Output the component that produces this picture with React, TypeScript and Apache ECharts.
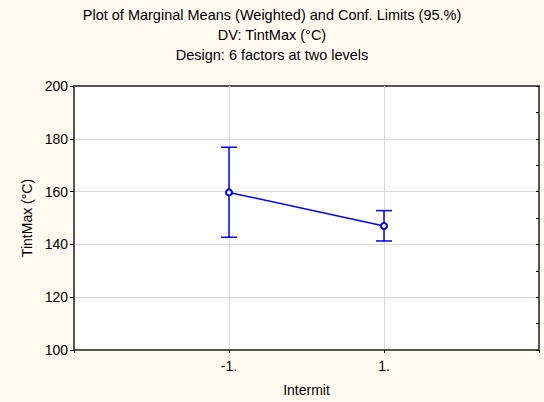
import React, { useEffect, useRef } from "react";
import * as echarts from "echarts";

const titleLines = [
  "Plot of Marginal Means (Weighted) and Conf. Limits (95.%)",
  "DV: TintMax (°C)",
  "Design: 6 factors at two levels",
];
const levels = [-1, 1];
const levelLabels = ["-1.", "1."];
const means = [159.7, 147.0];
const lowerLimits = [142.7, 141.3];
const upperLimits = [176.8, 152.8];
const xAxisName = "Intermit";
const yAxisName = "TintMax (°C)";

const BLUE = "#0000ff";
const FONT = "'Liberation Sans', Arial, sans-serif";
const FS = 14;

export default function App() {
  const ref = useRef<HTMLDivElement>(null);
  useEffect(() => {
    document.body.style.margin = "0";
    const chart = echarts.init(ref.current!, null, { renderer: "svg" });
    const lineData = levels.map((x, i) => [x, means[i]]);
    const errData = levels.map((x, i) => [x, lowerLimits[i], upperLimits[i]]);
    chart.setOption({
      animation: false,
      backgroundColor: "#fffbf0",
      textStyle: { fontFamily: FONT },
      title: {
        text: titleLines.join("\n"),
        left: "center",
        top: 5,
        padding: 0,
        textStyle: {
          fontFamily: FONT,
          fontSize: 14.5,
          fontWeight: "normal",
          color: "#000",
          lineHeight: 20,
        },
      },
      grid: {
        left: 74,
        right: 5,
        top: 86,
        bottom: 52,
        show: true,
        backgroundColor: "#ffffff",
        borderColor: "#555",
        borderWidth: 2,
      },
      xAxis: {
        type: "value",
        min: -3,
        max: 3,
        interval: 2,
        name: xAxisName,
        nameLocation: "middle",
        nameGap: 33,
        nameTextStyle: { fontFamily: FONT, fontSize: FS, color: "#000" },
        axisLine: { show: true, onZero: false, lineStyle: { color: "#555", width: 2 } },
        axisTick: { show: true, length: 3, lineStyle: { color: "#000" } },
        axisLabel: {
          fontFamily: FONT,
          fontSize: FS,
          color: "#000",
          margin: 9,
          formatter: (v: number) => {
            const i = levels.indexOf(v);
            return i >= 0 ? levelLabels[i] : "";
          },
        },
        splitLine: {
          show: true,
          showMinLine: false,
          showMaxLine: false,
          lineStyle: { color: "#d8d8d8" },
        },
      },
      yAxis: [
        {
          type: "value",
          min: 100,
          max: 200,
          interval: 20,
          name: yAxisName,
          nameLocation: "middle",
          nameGap: 39,
          nameTextStyle: { fontFamily: FONT, fontSize: FS, color: "#000" },
          axisLine: { show: true, onZero: false, lineStyle: { color: "#555", width: 2 } },
          axisTick: { show: true, length: 4, lineStyle: { color: "#000" } },
          axisLabel: { fontFamily: FONT, fontSize: FS, color: "#000", margin: 6 },
          splitLine: {
            show: true,
            showMinLine: false,
            showMaxLine: false,
            lineStyle: { color: "#d8d8d8" },
          },
        },
        {
          type: "value",
          position: "right",
          min: 100,
          max: 200,
          interval: 10,
          axisLine: { show: true, onZero: false, lineStyle: { color: "#555", width: 2 } },
          axisTick: { show: true, inside: true, length: 3, lineStyle: { color: "#000" } },
          axisLabel: { show: false },
          splitLine: { show: false },
        },
      ],
      series: [
        {
          type: "custom",
          yAxisIndex: 0,
          data: errData,
          renderItem: (params: any, api: any) => {
            const x = api.value(0);
            const lo = api.coord([x, api.value(1)]);
            const hi = api.coord([x, api.value(2)]);
            const hw = 8;
            const style = { stroke: BLUE, lineWidth: 1.5 };
            return {
              type: "group",
              children: [
                { type: "line", shape: { x1: lo[0], y1: lo[1], x2: hi[0], y2: hi[1] }, style },
                { type: "line", shape: { x1: lo[0] - hw, y1: lo[1], x2: lo[0] + hw, y2: lo[1] }, style },
                { type: "line", shape: { x1: hi[0] - hw, y1: hi[1], x2: hi[0] + hw, y2: hi[1] }, style },
              ],
            };
          },
          z: 2,
        },
        {
          type: "line",
          data: lineData,
          yAxisIndex: 0,
          symbol: "emptyCircle",
          symbolSize: 6,
          lineStyle: { color: BLUE, width: 1.5 },
          itemStyle: { color: BLUE, borderColor: BLUE, borderWidth: 1.5 },
          z: 3,
        },
      ],
    });
    return () => chart.dispose();
  }, []);
  return <div ref={ref} style={{ width: 544, height: 402 }} />;
}
